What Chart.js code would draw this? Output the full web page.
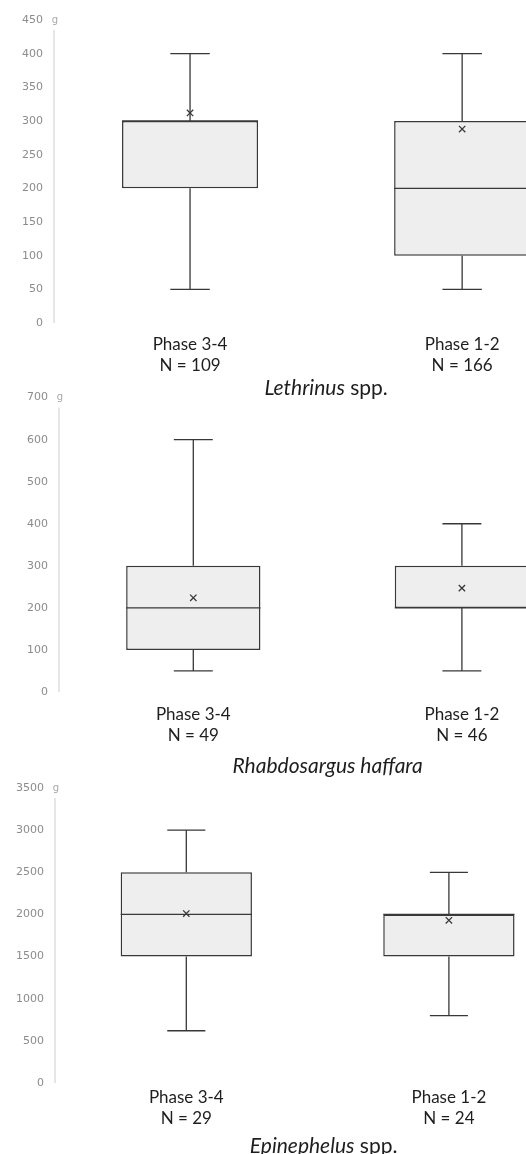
<!DOCTYPE html>
<html>
<head>
<meta charset="utf-8"/>
<style type="text/css">
  html, body {
    margin: 0px;
    padding: 0px;
    overflow: hidden;
    background: #ffffff;
  }
  body {
    width: 526px;
    height: 1154px;
    position: relative;
  }
  .panel {
    position: absolute;
    left: 0px;
  }
</style>
</head>
<body>
  <div class="panel" style="top:0px"><canvas id="leth" width="604" height="399"></canvas></div>
  <div class="panel" style="top:380px"><canvas id="rhab" width="602" height="397"></canvas></div>
  <div class="panel" style="top:770px"><canvas id="epin" width="586" height="387"></canvas></div>

<script src="https://cdn.jsdelivr.net/npm/chart.js@4.4.1/dist/chart.umd.min.js"></script>
<script>
// body weight (g) by phase
var phases = ['Phase 3-4', 'Phase 1-2'];

// Lethrinus spp.
var lethN    = [109, 166];
var lethMin  = [50, 50];
var lethQ1   = [200, 100];
var lethMed  = [300, 200];
var lethQ3   = [300, 300];
var lethMax  = [400, 400];
var lethMean = [312, 288];

// Rhabdosargus haffara
var rhabN    = [49, 46];
var rhabMin  = [50, 50];
var rhabQ1   = [100, 200];
var rhabMed  = [200, 200];
var rhabQ3   = [300, 300];
var rhabMax  = [600, 400];
var rhabMean = [224, 247];

// Epinephelus spp.
var epinN    = [29, 24];
var epinMin  = [620, 800];
var epinQ1   = [1500, 1500];
var epinMed  = [2000, 2000];
var epinQ3   = [2500, 2000];
var epinMax  = [3000, 2500];
var epinMean = [2010, 1930];

var textColor = '#1e1e1e';
var lineColor = '#383838';

// whiskers, caps and median line on top of the floating bars
var whiskers = {
  id: 'whiskers',
  afterDatasetDraw: function(chart, args, opts) {
    if (args.meta.type !== 'bar') return;
    var ctx = chart.ctx, ys = chart.scales.y;
    ctx.save();
    ctx.strokeStyle = lineColor;
    ctx.lineWidth = 1.3;
    args.meta.data.forEach(function(bar, i) {
      var x = bar.x, half = bar.width / 2, cap = bar.width * 0.145;
      var top = Math.min(bar.y, bar.base), bottom = Math.max(bar.y, bar.base);
      var yHi = ys.getPixelForValue(opts.max[i]);
      var yLo = ys.getPixelForValue(opts.min[i]);
      var yMed = ys.getPixelForValue(opts.median[i]);
      ctx.beginPath();
      ctx.moveTo(x, yHi); ctx.lineTo(x, top);
      ctx.moveTo(x, bottom); ctx.lineTo(x, yLo);
      ctx.moveTo(x - cap, yHi); ctx.lineTo(x + cap, yHi);
      ctx.moveTo(x - cap, yLo); ctx.lineTo(x + cap, yLo);
      ctx.moveTo(x - half, yMed); ctx.lineTo(x + half, yMed);
      ctx.stroke();
    });
    ctx.restore();
  }
};

// faint y axis line with the unit at its top, species name underneath
var decor = {
  id: 'decor',
  afterDraw: function(chart, args, opts) {
    var ctx = chart.ctx, ys = chart.scales.y, area = chart.chartArea;
    var x = area.left, yTop = ys.getPixelForValue(ys.max);
    ctx.save();
    ctx.strokeStyle = '#e6e6e6';
    ctx.lineWidth = 2;
    ctx.beginPath();
    ctx.moveTo(x, yTop + 10);
    ctx.lineTo(x, ys.getPixelForValue(0));
    ctx.stroke();

    ctx.fillStyle = '#a8a8a8';
    ctx.font = '10px "DejaVu Sans"';
    ctx.textAlign = 'center';
    ctx.textBaseline = 'middle';
    ctx.fillText('g', x + 1, yTop);

    // caption in mixed italic / upright
    var font = function(it) { return (it ? 'italic ' : '') + '21px Lato'; };
    var total = 0;
    opts.caption.forEach(function(s) { ctx.font = font(s[1]); total += ctx.measureText(s[0]).width; });
    var cx = (area.left + area.right) / 2 + (opts.shift || 0) - total / 2;
    var cy = chart.height - 11;
    ctx.fillStyle = textColor;
    ctx.textAlign = 'left';
    opts.caption.forEach(function(s) {
      ctx.font = font(s[1]);
      ctx.fillText(s[0], cx, cy);
      cx += ctx.measureText(s[0]).width;
    });
    ctx.restore();
  }
};

function boxChart(id, n, mn, q1, med, q3, mx, mean, yMax, step, look) {
  var labels = phases.map(function(p, i) { return [p, 'N = ' + n[i]]; });
  return new Chart(document.getElementById(id), {
    type: 'bar',
    data: {
      labels: labels,
      datasets: [{
        data: q1.map(function(v, i) { return [v, q3[i]]; }),
        backgroundColor: '#eeeeee',
        borderColor: lineColor,
        borderWidth: 1.5,
        borderSkipped: false,
        barPercentage: 0.5,
        categoryPercentage: 1,
        order: 2
      }, {
        type: 'line',
        data: mean,
        showLine: false,
        pointStyle: 'crossRot',
        pointRadius: 4.5,
        pointBorderWidth: 1.3,
        borderColor: lineColor,
        order: 1
      }]
    },
    options: {
      responsive: false,
      animation: false,
      layout: { padding: { top: look.padTop, bottom: 22, left: 0, right: 0 } },
      scales: {
        x: {
          grid: { display: false, drawTicks: false },
          border: { display: false },
          ticks: { padding: look.tickPad, color: textColor, font: { family: 'Lato', size: 17, lineHeight: 1.25 } },
          afterFit: function(s) { s.height = look.xHeight; }
        },
        y: {
          min: 0,
          max: yMax,
          grid: { display: false, drawTicks: false },
          border: { display: false },
          ticks: {
            stepSize: step,
            padding: 11,
            color: '#8c8c8c',
            font: { family: 'DejaVu Sans', size: 11 },
            callback: function(v) { return String(v); }
          },
          afterFit: function(s) { s.width = look.axisWidth; }
        }
      },
      plugins: {
        legend: { display: false },
        tooltip: { enabled: false },
        whiskers: { min: mn, median: med, max: mx },
        decor: { caption: look.caption, shift: look.shift }
      }
    },
    plugins: [whiskers, decor]
  });
}

boxChart('leth', lethN, lethMin, lethQ1, lethMed, lethQ3, lethMax, lethMean, 450, 50,
  { padTop: 20, xHeight: 54, tickPad: 11, axisWidth: 54, caption: [['Lethrinus', true], [' spp.', false]] });

boxChart('rhab', rhabN, rhabMin, rhabQ1, rhabMed, rhabQ3, rhabMax, rhabMean, 700, 100,
  { padTop: 14, xHeight: 63, tickPad: 12, axisWidth: 59, caption: [['Rhabdosargus haffara', true]] });

boxChart('epin', epinN, epinMin, epinQ1, epinMed, epinQ3, epinMax, epinMean, 3500, 500,
  { padTop: 18, xHeight: 52, tickPad: 4, axisWidth: 55, caption: [['Epinephelus', true], [' spp.', false]], shift: 6 });
</script>
</body>
</html>
